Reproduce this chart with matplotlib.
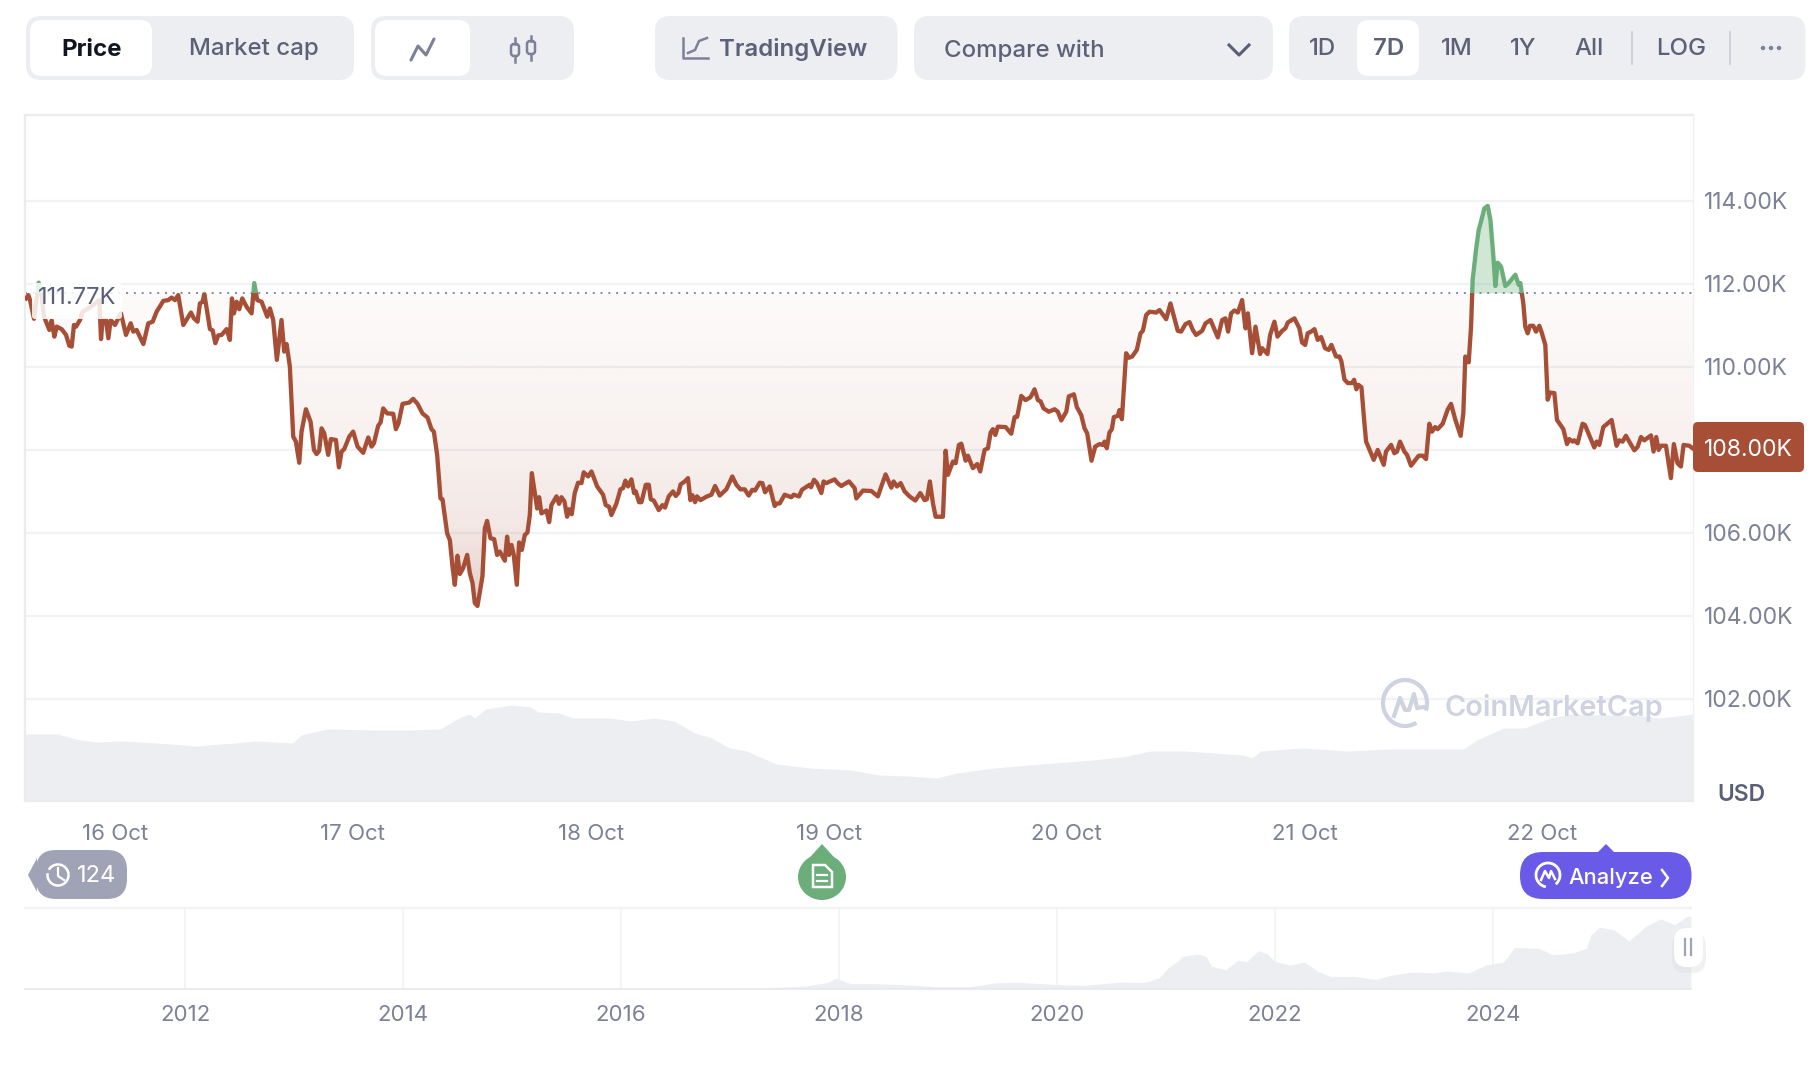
import numpy as np
import matplotlib
matplotlib.use("Agg")
import matplotlib.pyplot as plt
from matplotlib.patches import FancyBboxPatch, Rectangle, Circle, Ellipse, Polygon, Arc
from matplotlib.path import Path

plt.rcParams['font.family'] = ['Inter', 'DejaVu Sans']

# hours since 16 Oct 00:00 and price in thousands of USD
hours = [-8.97,-8.74,-8.57,-8.17,-7.97,-7.70,-7.40,-7.16,-6.82,-6.62,-6.39,-6.12,-5.88,-5.38,-4.94,-4.61,-4.37,-4.14,-3.93,-3.53,-3.26,-2.69,-2.02,-1.58,-1.41,-1.25,-0.91,-0.67,-0.44,0.00,
    0.33,0.60,1.11,1.58,1.85,2.18,2.86,3.36,3.80,4.20,4.87,5.38,5.71,6.05,6.38,6.89,7.66,7.96,8.33,8.57,8.84,9.01,9.58,9.85,10.12,10.42,10.75,11.26,11.59,11.80,
    12.00,12.27,12.54,12.84,13.27,13.78,14.05,14.35,14.79,15.36,15.63,15.96,16.33,16.80,17.07,17.31,17.64,17.98,18.25,18.59,18.82,19.26,19.73,20.07,20.34,20.60,20.84,21.11,21.51,21.78,
    22.29,22.59,22.86,23.13,23.63,24.03,24.47,25.04,25.55,25.88,26.12,26.55,26.79,27.06,27.46,28.07,28.34,28.60,29.01,29.68,30.08,30.52,31.02,31.53,31.93,32.17,32.50,32.84,33.04,33.51,
    33.78,34.05,34.28,34.55,34.79,35.12,35.53,35.80,36.07,36.30,36.57,37.07,37.31,37.54,37.88,38.25,38.55,38.82,39.33,39.56,39.76,40.00,40.23,40.54,40.77,41.04,41.34,41.61,41.85,42.05,
    42.59,42.79,43.02,43.53,43.80,44.03,44.54,44.80,45.04,45.34,45.61,45.81,46.08,46.38,46.72,47.06,47.29,47.73,48.07,48.64,49.24,49.51,49.85,50.08,50.59,50.99,51.26,51.49,51.76,52.10,
    52.37,52.54,52.87,53.11,53.55,53.85,54.05,54.35,54.86,55.23,55.49,55.86,56.30,56.57,56.84,57.07,57.48,57.81,58.05,58.25,58.52,58.72,59.06,59.73,60.17,60.54,61.01,61.68,62.28,62.69,
    63.09,63.53,63.93,64.30,64.57,65.04,65.31,65.58,66.05,66.55,66.79,67.06,67.56,68.23,68.47,69.01,69.31,70.08,70.22,70.52,70.82,71.26,71.49,71.76,72.60,72.90,73.27,74.05,74.62,74.79,
    75.46,76.30,76.97,77.31,77.74,78.32,78.55,78.89,79.26,79.66,80.16,80.74,81.24,81.68,81.91,82.21,82.52,82.79,83.53,83.80,84.03,84.54,84.81,85.14,85.38,85.82,86.05,86.55,86.99,87.29,
    87.73,88.07,88.34,88.57,88.81,89.07,89.85,90.42,90.76,91.02,91.43,91.86,92.37,92.77,93.11,93.38,93.68,94.22,94.79,95.12,95.46,95.97,96.23,96.74,97.04,97.48,97.81,98.08,98.52,98.89,
    99.33,99.66,99.83,100.06,100.33,100.57,100.77,101.17,101.34,101.58,102.01,102.28,102.62,103.09,103.46,103.70,104.03,104.37,105.04,105.38,106.05,106.48,107.22,107.56,107.99,108.40,108.74,109.07,109.68,110.02,
    110.52,111.26,111.70,112.03,112.30,112.60,112.94,113.28,113.71,114.05,114.29,114.72,115.06,115.53,115.73,116.27,116.54,116.97,117.28,117.75,118.08,118.32,118.99,119.49,119.76,120.07,120.33,120.67,121.01,121.34,
    121.68,122.08,122.45,122.72,123.19,123.53,123.73,124.03,124.37,124.80,125.01,125.24,125.44,125.75,126.05,126.22,126.99,127.39,128.00,128.23,128.74,129.07,129.34,129.64,130.08,130.35,130.75,131.53,131.93,132.27,
    132.60,132.87,133.18,133.44,133.95,134.45,134.79,135.23,135.76,136.03,136.23,136.57,136.81,136.97,137.31,137.58,137.81,138.15,138.49,138.76,139.06,139.26,139.49,139.83,140.27,140.60,141.28,141.61,141.78,142.08,
    142.28,142.52,142.75,143.09,143.36,143.70,143.96,144.30,144.54,144.77,145.21,145.48,146.12,146.49,146.72,147.06,147.22,147.56,148.06,148.30,149.24,149.48,149.75,150.15,150.59,150.99,151.49,151.76,152.10,152.43,
    153.28,153.61,153.95,154.28,154.96,155.22,155.49,155.73,155.96,156.47,156.97,157.27,157.64,157.98,158.25,158.82,159.16]
price = [111.65,111.73,111.61,111.16,111.53,112.03,111.73,111.21,111.01,110.89,111.12,110.73,110.97,110.91,110.77,110.51,110.49,111.01,110.97,111.13,111.33,111.41,111.53,111.61,110.67,111.13,111.13,110.69,111.13,111.01,
    111.17,111.29,110.77,111.05,110.85,110.89,110.55,111.05,111.09,111.33,111.59,111.61,111.67,111.61,111.73,111.01,111.31,111.17,111.09,111.53,111.57,111.76,110.91,110.88,110.57,110.76,110.77,110.91,110.65,111.65,
    111.29,111.57,111.39,111.65,111.45,111.29,112.02,111.61,111.57,111.21,111.41,111.13,110.17,111.13,110.37,110.55,110.01,108.32,108.20,107.69,108.44,108.98,108.68,108.00,107.90,107.98,108.52,108.40,107.88,108.26,
    108.24,107.58,107.96,108.02,108.32,108.44,108.08,107.93,108.30,108.08,108.16,108.58,108.66,109.00,108.88,108.87,108.50,108.64,109.11,109.14,109.23,109.11,108.88,108.78,108.50,108.44,107.88,106.83,106.81,105.99,
    105.83,105.19,104.75,105.45,105.01,105.15,105.47,105.03,104.79,104.31,104.24,104.95,106.11,106.29,105.87,105.85,105.47,105.55,105.33,105.91,105.47,105.71,105.47,104.75,105.77,105.59,105.95,106.01,106.43,107.44,
    106.59,106.86,106.47,106.54,106.26,106.67,106.88,106.70,106.86,106.76,106.39,106.57,106.45,106.96,107.21,107.20,107.46,107.36,107.48,107.12,106.92,106.67,106.63,106.43,106.71,107.05,107.08,107.26,107.12,107.29,
    106.96,107.00,106.74,106.74,107.16,107.16,106.81,106.78,106.55,106.67,106.61,106.88,107.00,106.89,106.96,107.17,107.24,107.32,106.79,106.91,106.74,106.88,106.79,106.88,106.92,107.13,106.90,107.05,107.36,107.16,
    107.05,107.05,106.90,107.04,107.02,107.21,107.20,106.98,107.12,106.65,106.71,106.71,106.92,106.86,106.92,106.88,107.04,107.16,107.10,107.28,107.20,106.96,107.24,107.20,107.29,107.20,107.13,107.24,107.08,106.83,
    107.02,107.01,106.88,107.12,107.41,107.09,107.24,107.12,107.20,107.00,106.88,106.78,106.96,106.79,106.81,107.24,106.71,106.39,106.39,107.98,107.40,107.72,107.68,108.12,108.15,107.74,107.86,107.56,107.66,107.48,
    108.00,108.04,108.42,108.50,108.36,108.56,108.55,108.39,108.79,108.80,109.30,109.20,109.27,109.46,109.20,109.17,109.00,108.92,108.98,108.92,108.71,108.92,109.29,109.34,109.03,108.84,108.52,108.40,107.74,108.08,
    108.14,108.12,108.20,108.04,108.42,108.50,108.79,108.82,108.96,108.74,110.33,110.22,110.25,110.41,110.81,110.87,111.25,111.33,111.31,111.37,111.15,111.53,110.87,110.85,111.03,111.08,110.89,110.77,110.87,111.05,
    111.13,110.71,111.13,111.17,110.85,111.29,111.36,111.31,111.61,110.93,111.29,110.33,110.97,110.31,110.45,110.31,110.77,111.09,110.73,110.87,110.93,111.07,111.17,110.93,110.59,110.53,110.81,110.85,110.91,110.65,
    110.72,110.45,110.41,110.53,110.25,110.25,110.13,109.70,109.61,109.61,109.69,109.46,109.57,109.51,108.64,108.20,107.76,108.00,107.64,107.96,108.12,107.92,107.96,108.20,107.96,107.88,107.62,107.86,107.86,107.78,
    108.63,108.44,108.55,108.50,108.63,108.97,109.11,108.72,108.34,108.89,110.25,110.11,110.97,112.10,112.82,113.30,113.50,113.82,113.88,113.54,112.66,111.95,112.51,112.42,111.95,112.02,112.22,111.98,112.02,111.53,
    110.97,110.81,110.99,110.99,110.85,110.99,110.81,110.53,109.21,109.38,109.37,108.72,108.50,108.14,108.26,108.20,108.23,108.16,108.63,108.60,108.06,108.20,108.12,108.55,108.64,108.72,108.10,108.23,108.20,108.34,
    107.99,108.07,108.31,108.23,108.35,107.96,108.31,108.00,108.10,108.10,107.32,108.14,107.68,107.60,108.12,108.10,108.04]

baseline = 111.77
current_price = 108.00

# volume band under the price
vol_hours = [-9.08,-5.76,-4.0,-1.96,0.67,4.17,8.26,12.05,14.1,17.9,18.8,21.4,26.3,29.3,32.8,34.5,35.7,36.3,37.4,40.0,41.9,42.7,44.8,46.2,50.0,52.0,54.4,56.4,58.5,60.2,62.0,63.7,66.7,70.2,74.2,77.1,80.0,
    82.9,84.9,88.7,93.4,97.5,101.6,104.5,108.0,113.8,114.7,115.6,119.7,124.3,128.5,136.0,137.4,140.1,142.2,144.8,147.1,154.1,155.9,159.2]
volume = [67,67,62,59,60,58,55,58,60,58,66,72,71,71,72,82,87,83,92,96,94,89,88,83,83,80,83,80,68,63,53,50,37,33,31,26,25,
    23,28,33,37,40,44,50,50,46,43,50,53,50,52,52,61,73,73,83,87,85,83,87]

# all-time navigator
nav_years = [2010.53,2013.0,2013.9,2014.5,2016.0,2017.0,2017.4,2017.7,2017.9,2017.97,2018.05,2018.1,2018.3,2018.63,2018.9,2019.2,2019.43,2019.64,2019.96,2020.23,2020.6,2020.81,2020.94,2021.02,2021.12,2021.15,2021.29,2021.37,2021.42,2021.55,
    2021.66,2021.74,2021.85,2021.93,2022.0,2022.14,2022.27,2022.4,2022.51,2022.72,2022.93,2023.04,2023.25,2023.47,2023.57,2023.78,2023.94,2024.1,2024.2,2024.42,2024.55,2024.74,2024.86,2024.9,2024.98,2025.11,2025.25,2025.41,2025.54,2025.67,2025.79,2025.82]
nav_price = [0,0,1,0.6,0.5,1,2.5,5,11,18,13,9,9,7,3.8,3.8,10,11,8,6,11.5,11,19,35,48,54,58,54,38,32,
    48,45,64,59,46,40,45,29,21,21,16,22,28,27,30,27,40,45,69,68,57,60,68,90,103,99,80,105,117,107,122,120]

day_labels = ['16 Oct', '17 Oct', '18 Oct', '19 Oct', '20 Oct', '21 Oct', '22 Oct']
day_hours = [0, 24, 48, 72, 96, 120, 144]
price_ticks = [102, 104, 106, 108, 110, 112, 114]
price_labels = ['102.00K', '104.00K', '106.00K', '', '110.00K', '112.00K', '114.00K']
year_ticks = [2012, 2014, 2016, 2018, 2020, 2022, 2024]

RED = '#a64f36'
GREEN = '#6bae79'
GRID = '#f1f2f4'
PANEL = '#eceef2'
TEXT = '#5d6178'
GREY = '#7d8097'
DARK = '#5a5f78'

W, H = 1816, 1070
fig = plt.figure(figsize=(W / 100, H / 100), dpi=100)


def axes_px(x0, y0, x1, y1, **kw):
    return fig.add_axes([x0 / W, 1 - y1 / H, (x1 - x0) / W, (y1 - y0) / H], **kw)


# volume sits behind the price axes
vol_ax = axes_px(25, 115, 1693, 801, zorder=0)
vol_ax.fill_between(vol_hours, volume, 0, color=PANEL, lw=0)
vol_ax.set_xlim(-9.08, 159.2)
vol_ax.set_ylim(0, 686)
vol_ax.axis('off')

ax = axes_px(25, 115, 1693, 801, zorder=1)
ax.patch.set_visible(False)
xmin, xmax = -9.08, 159.2
ymin, ymax = 99.54, 116.07
ax.set_xlim(xmin, xmax)
ax.set_ylim(ymin, ymax)

hours_a = np.array(hours)
price_a = np.array(price)

# gradient under the baseline
below = ax.fill_between(hours_a, price_a, baseline, where=price_a <= baseline, interpolate=True, color='none', lw=0)
clip = Path.make_compound_path(*below.get_paths())
levels = np.linspace(baseline, 103.5, 200)
grad = np.zeros((200, 2, 4))
grad[:, :, 0] = 166 / 255
grad[:, :, 1] = 79 / 255
grad[:, :, 2] = 54 / 255
grad[:, :, 3] = np.interp(levels, [103.5, 105, 106, 108, baseline], [0.30, 0.22, 0.14, 0.085, 0.025])[:, None]
im = ax.imshow(grad, extent=[xmin, xmax, 103.5, baseline], origin='upper', aspect='auto', zorder=1)
im.set_clip_path(clip, transform=ax.transData)
ax.set_xlim(xmin, xmax)
ax.set_ylim(ymin, ymax)

ax.fill_between(hours_a, price_a, baseline, where=price_a >= baseline, interpolate=True, color=GREEN, alpha=0.3, lw=0, zorder=1)

ax.axhline(baseline, color='#85889a', lw=1.4, ls=(0, (1, 3)), zorder=2)

red_line, = ax.plot(hours_a, price_a, color=RED, lw=3.1, solid_joinstyle='round', zorder=3)
green_line, = ax.plot(hours_a, price_a, color=GREEN, lw=3.1, solid_joinstyle='round', zorder=3)
red_line.set_clip_path(Rectangle((xmin, ymin), xmax - xmin, baseline - ymin, transform=ax.transData))
green_line.set_clip_path(Rectangle((xmin, baseline), xmax - xmin, ymax - baseline, transform=ax.transData))

ax.yaxis.tick_right()
ax.set_yticks(price_ticks)
ax.set_yticklabels(price_labels, color=GREY, fontsize=16.5)
ax.set_xticks(day_hours)
ax.set_xticklabels(day_labels, color=GREY, fontsize=16)
ax.tick_params(axis='y', length=0, pad=8)
ax.tick_params(axis='x', length=0, pad=16.5)
ax.grid(True, axis='y', color=GRID, lw=1.6)
ax.set_axisbelow(True)
for side in ['top', 'left', 'bottom']:
    ax.spines[side].set_color('#ececef')
    ax.spines[side].set_linewidth(1.6)
ax.spines['right'].set_color('#f0f0f2')
ax.spines['right'].set_linewidth(1)

# navigator
nav = axes_px(25, 908, 1691, 989, zorder=1)
nav.fill_between(nav_years, nav_price, 0, color=PANEL, lw=0)
nav.set_xlim(2010.53, 2025.82)
nav.set_ylim(0, 135)
nav.set_xticks(year_ticks)
nav.set_xticklabels([str(y) for y in year_ticks], color=GREY, fontsize=16)
nav.set_yticks([])
nav.tick_params(axis='x', length=0, pad=11.5)
nav.grid(True, axis='x', color=GRID, lw=1.2)
nav.set_axisbelow(True)
for side in ['left', 'right']:
    nav.spines[side].set_visible(False)
nav.spines['top'].set_color(GRID)
nav.spines['top'].set_linewidth(1.6)
nav.spines['bottom'].set_color('#e8e9ed')
nav.spines['bottom'].set_linewidth(1.2)

# everything else is page furniture, laid out in pixels
ui = fig.add_axes([0, 0, 1, 1], zorder=5)
ui.set_xlim(0, W)
ui.set_ylim(H, 0)
ui.axis('off')


def box(x0, y0, x1, y1, color, r=14, **kw):
    ui.add_patch(FancyBboxPatch((x0 + r, y0 + r), x1 - x0 - 2 * r, y1 - y0 - 2 * r,
                                boxstyle=f'round,pad={r},rounding_size={r}', fc=color, ec='none', **kw))


def label(x, y, s, color=TEXT, size=17.3, ha='center', **kw):
    ui.text(x, y, s, color=color, fontsize=size, ha=ha, va='center', **kw)


# top buttons
box(26, 16, 354, 80, PANEL, 15)
box(30, 20, 152, 76, 'white', 12)
label(91.5, 49.5, 'Price', color='#11151f', weight='bold')
label(253.5, 49.5, 'Market cap', weight='medium')

box(371, 16, 574, 80, PANEL, 15)
box(375, 20, 470, 76, 'white', 12)
ui.plot([411, 418, 426, 434], [60, 46, 55, 39], color=GREY, lw=2.2, solid_capstyle='round')
for cx, y0, y1, top, bot in [(515, 38, 62, 44, 56), (531, 36, 60, 41, 54)]:
    ui.plot([cx, cx], [y0, top], color=GREY, lw=1.8)
    ui.plot([cx, cx], [bot, y1], color=GREY, lw=1.8)
    ui.add_patch(FancyBboxPatch((cx - 4, top), 8, bot - top, boxstyle='round,pad=0,rounding_size=3', fc='none', ec=GREY, lw=1.8))

box(655, 16, 897.5, 80, PANEL, 15)
ui.plot([683, 683, 708], [38, 58, 58], color=GREY, lw=1.8)
ui.plot([688, 695, 699, 707], [53, 50, 41, 38], color=GREY, lw=1.8)
label(793, 49.5, 'TradingView', weight='semibold')

box(914, 16, 1273, 80, PANEL, 15)
label(944, 51, 'Compare with', ha='left', weight='medium')
ui.plot([1229, 1239, 1249], [45, 55, 45], color=DARK, lw=2.2)

box(1289, 16, 1805.5, 80, PANEL, 15)
box(1357, 20, 1419, 76, 'white', 12)
for cx, s, w in [(1322.5, '1D', 'medium'), (1388.5, '7D', 'semibold'), (1457, '1M', 'medium'), (1523.5, '1Y', 'medium'), (1589.5, 'All', 'medium'), (1681, 'LOG', 'medium')]:
    label(cx, 49, s, weight=w)
ui.plot([1632, 1632], [32, 64], color='#c9ccd8', lw=1.2)
ui.plot([1730, 1730], [32, 64], color='#c9ccd8', lw=1.2)
for cx in [1763, 1771, 1779]:
    ui.add_patch(Circle((cx, 48), 1.5, color=GREY))

# baseline value label
box(32, 283, 122, 319, 'white', 3, alpha=0.85)
label(38, 298, '111.77K', color=DARK, size=17, ha='left')

# current price tag
box(1693, 422, 1804, 472, RED, 5)
label(1748, 449.5, '108.00K', color='white', size=16.5)
label(1717, 795, 'USD', color=DARK, size=16.5, ha='left', weight='semibold')

# watermark
wm = '#cfd2e0'
ui.add_patch(Arc((1405, 703), 44, 46, theta1=60, theta2=20, color=wm, lw=3))
ui.plot([1394, 1400, 1405, 1409, 1414, 1417, 1424], [716, 698, 710, 710, 694, 708, 707], color=wm, lw=3, solid_joinstyle='round')
label(1444, 708, 'CoinMarketCap', color=wm, size=20.8, ha='left', weight='semibold')

# history badge
ui.add_patch(Polygon([[28, 875], [37, 858], [37, 892]], fc='#a0a3b5', ec='none'))
box(36, 850, 127, 899, '#a0a3b5', 20)
ui.add_patch(Arc((58, 875), 21, 21, theta1=-150, theta2=190, color='white', lw=1.8))
ui.plot([58, 58, 64], [868, 876, 880], color='white', lw=1.6)
label(97, 876, '124', color='white', size=17)

# news marker
ui.add_patch(Polygon([[822, 844], [802, 866], [842, 866]], fc=GREEN, ec='none'))
ui.add_patch(Ellipse((822, 877), 48, 46, fc=GREEN, ec='none'))
ui.add_patch(Polygon([[813, 865], [825, 865], [832, 872], [832, 887], [813, 887]], fc='none', ec='white', lw=1.8))
ui.plot([817, 827], [875, 875], color='white', lw=1.6)
ui.plot([817, 827], [881, 881], color='white', lw=1.6)

# analyze button
PURPLE = '#6a5ae8'
ui.add_patch(Polygon([[1606, 844], [1597, 853], [1615, 853]], fc=PURPLE, ec='none'))
box(1520, 852, 1691.5, 899, PURPLE, 23)
ui.add_patch(Arc((1548, 875), 24, 24, theta1=100, theta2=50, color='white', lw=2))
ui.plot([1541, 1545, 1549, 1551, 1555], [880, 871, 878, 871, 879], color='white', lw=1.8)
label(1568, 878, 'Analyze', color='white', size=15.8, ha='left', weight='medium')
ui.plot([1662, 1668, 1662], [870, 878, 886], color='white', lw=1.8)

# navigator handle
box(1672, 932, 1706, 973, '#dcdde4', 14, alpha=0.4)
box(1674, 928, 1703, 967, 'white', 13)
ui.plot([1685, 1685], [939, 955], color='#a0a3b5', lw=1.6)
ui.plot([1691, 1691], [939, 955], color='#a0a3b5', lw=1.6)

plt.savefig("out.png", dpi=100)
plt.close()
